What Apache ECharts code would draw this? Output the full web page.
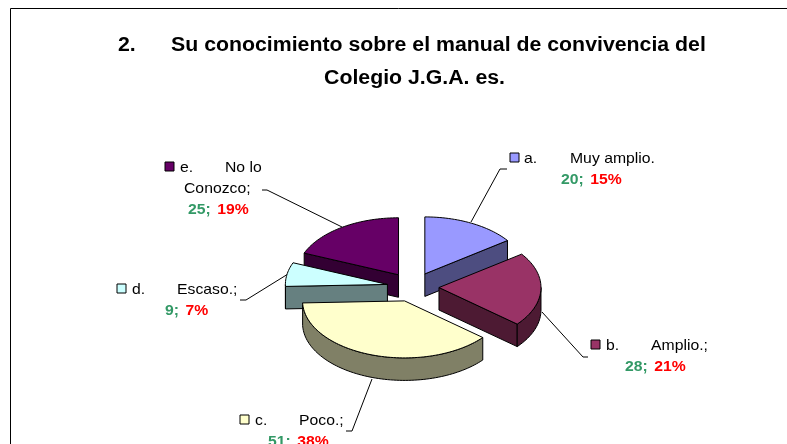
<!DOCTYPE html>
<html><head><meta charset="utf-8">
<style>html,body{margin:0;padding:0;background:#fff}#c{width:787px;height:444px}</style>
<script src="https://cdn.jsdelivr.net/npm/echarts@6/dist/echarts.min.js"></script>
</head><body><div id="c"></div>
<script>
const categories = ['a.','b.','c.','d.','e.'];
const values = [20,28,51,9,25];
const percents = ['15%','21%','38%','7%','19%'];
const topColors = ['#9999FF','#993366','#FFFFCC','#CCFFFF','#660066'];
const sideColors = ['#4D4D80','#4D1A33','#808066','#668080','#330033'];
const drawOrder = [4,0,3,1,2];
const FONT = '"Liberation Sans", Arial, sans-serif';
const geo = {cx:413, cy:287, rx:102, ry:57, depth:22.5, ex:26, ey:14.7};

const total = values.reduce((a,b)=>a+b,0);
let acc = 0;
const slices = values.map(v=>{const s=acc/total*2*Math.PI; acc+=v; return {s, e:acc/total*2*Math.PI};});

function arcPts(ax,ay,a0,a1,dy){
  const n=Math.max(2,Math.ceil(Math.abs(a1-a0)/0.03)), out=[];
  for(let i=0;i<=n;i++){const t=a0+(a1-a0)*i/n; out.push([ax+geo.rx*Math.sin(t), ay-geo.ry*Math.cos(t)+dy]);}
  return out;
}
const stroke={stroke:'#000',lineWidth:1,lineJoin:'round'};
function poly(points,fill){return {type:'polygon',shape:{points},style:Object.assign({fill},stroke)};}

function renderItem(params,api){
  const i=api.value(0), sl=slices[i], m=(sl.s+sl.e)/2;
  const ax=geo.cx+geo.ex*Math.sin(m), ay=geo.cy-geo.ey*Math.cos(m), d=geo.depth;
  const children=[];
  const wall=(t)=>{const p=arcPts(ax,ay,t,t,0)[0];
    return poly([[ax,ay],p,[p[0],p[1]+d],[ax,ay+d]],sideColors[i]);};
  if(Math.sin(sl.s)<-1e-6) children.push(wall(sl.s));
  if(Math.sin(sl.e)>1e-6) children.push(wall(sl.e));
  const a0=Math.max(sl.s,Math.PI/2), a1=Math.min(sl.e,Math.PI*1.5);
  if(a1>a0){
    children.push(poly(arcPts(ax,ay,a0,a1,0).concat(arcPts(ax,ay,a1,a0,d)),sideColors[i]));
  }
  children.push(poly([[ax,ay]].concat(arcPts(ax,ay,sl.s,sl.e,0)),topColors[i]));
  return {type:'group',children};
}

const G='#339966', R='#FF0000', LBL=15, SX=1.05, TF=19.5, TSX=1.092;
function tx(x,y,text){return {type:'text',x,y,scaleX:SX,style:{text,font:`${LBL}px ${FONT}`,fill:'#000'}};}
function ttl(x,y,text){return {type:'text',x,y,scaleX:TSX,style:{text,font:`bold ${TF}px ${FONT}`,fill:'#000'}};}
function line(points){return {type:'polyline',shape:{points},style:{stroke:'#000',lineWidth:1,fill:null}};}
function swatch(x,y,c){return {type:'rect',shape:{x,y,width:9,height:9},style:{fill:c,stroke:'#000',lineWidth:1}};}
function pair(x,y,i){
  const f=`bold ${LBL}px ${FONT}`;
  return {type:'text',x,y,scaleX:SX,style:{text:`{g|${values[i]};} {r|${percents[i]}}`,font:f,
    rich:{g:{font:f,fill:G},r:{font:f,fill:R,padding:[0,0,0,2]}}}};
}

const chart=echarts.init(document.getElementById('c'),null,{renderer:'canvas'});
chart.setOption({
  animation:false,
  series:[{type:'custom',coordinateSystem:'none',silent:true,renderItem,
    data:drawOrder.map(i=>[i,values[i]])}],
  graphic:[
    line([[10.5,444],[10.5,8.5],[787,8.5]]),
    ttl(118,36,'2.'),
    ttl(171,36,'Su conocimiento sobre el manual de convivencia del'),
    ttl(324,69,'Colegio J.G.A. es.'),
    line([[471,222],[500,169],[507,169]]),
    line([[542,312],[583,357],[588,357]]),
    line([[372,379],[352,431],[346,431]]),
    line([[288,274],[246,300],[240,300]]),
    line([[342,227],[267,190],[262,190]]),
    swatch(510,153,topColors[0]), tx(524,151,categories[0]), tx(570,151,'Muy amplio.'),
    pair(561,172,0),
    swatch(591,340,topColors[1]), tx(606,338,categories[1]), tx(651,338,'Amplio.;'),
    pair(625,359,1),
    swatch(240,415,topColors[2]), tx(255,413,categories[2]), tx(299,413,'Poco.;'),
    pair(268,434,2),
    swatch(117,284,topColors[3]), tx(132,282,categories[3]), tx(177,282,'Escaso.;'),
    pair(165,303,3),
    swatch(165,162,topColors[4]), tx(180,160,categories[4]), tx(225,160,'No lo'), tx(184,181,'Conozco;'),
    pair(188,202,4)
  ]
});
</script></body></html>
